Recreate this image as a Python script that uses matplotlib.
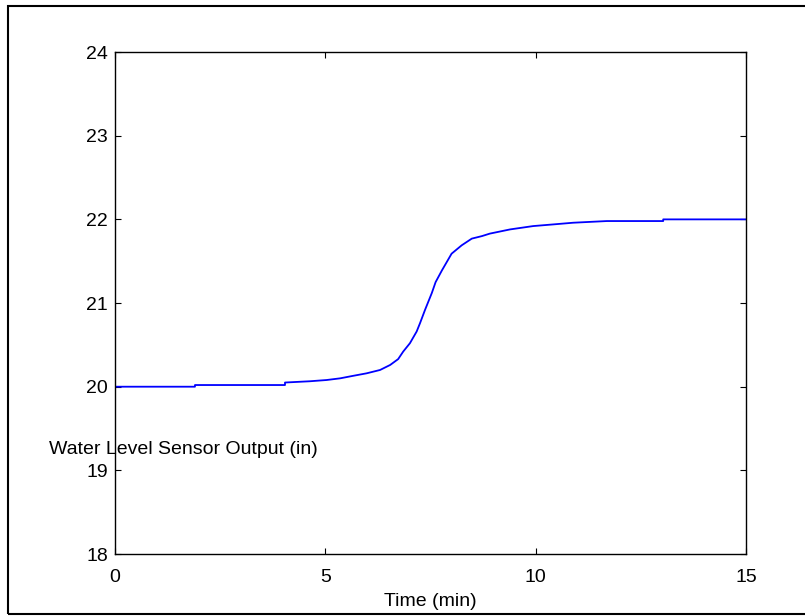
import numpy as np
import matplotlib.pyplot as plt
from matplotlib.patches import Rectangle

plt.rcParams['font.family'] = ['Liberation Sans', 'DejaVu Sans']

# sensor trace, time in minutes and level in inches
time_min = [0, 1.9, 1.9, 4.04, 4.04, 4.63, 5.03, 5.35, 5.66, 5.98, 6.30, 6.54,
            6.73, 6.85, 7.01, 7.17, 7.25, 7.37, 7.53, 7.62, 7.77, 8.00, 8.24,
            8.48, 8.72, 8.91, 9.39, 9.94, 10.42, 10.89, 11.69, 13.03, 13.03, 15]
level_in = [20.00, 20.00, 20.02, 20.02, 20.05, 20.065, 20.08, 20.10, 20.13,
            20.16, 20.20, 20.26, 20.33, 20.42, 20.52, 20.66, 20.76, 20.92,
            21.12, 21.25, 21.39, 21.59, 21.69, 21.77, 21.80, 21.83, 21.88,
            21.92, 21.94, 21.96, 21.98, 21.98, 22.00, 22.00]

x_ticks = [0, 5, 10, 15]
y_ticks = [18, 19, 20, 21, 22, 23, 24]

fig = plt.figure(figsize=(8.05, 6.16), dpi=100)
ax = fig.add_axes([0.1429, 0.1006, 0.7839, 0.8149])

ax.plot(time_min, level_in, color='#0000ff', linewidth=1.3)

ax.set_xlim(0, 15)
ax.set_ylim(18, 24)
ax.set_xticks(x_ticks)
ax.set_yticks(y_ticks)
ax.tick_params(direction='in', length=4, width=0.8, top=True, right=True,
               labelsize=14)
ax.tick_params(axis='x', pad=11)
ax.tick_params(axis='y', pad=5)
for s in ax.spines.values():
    s.set_linewidth(1.0)

ax.set_xlabel('Time (min)', fontsize=14, labelpad=5)
ax.set_ylabel('Water Level Sensor Output (in)', fontsize=14, rotation=0,
              ha='center', va='center')
ax.yaxis.set_label_coords(0.108, 0.209)

# frame around the whole figure
fig.patches.append(Rectangle((8 / 805, 2 / 616), 1.0, 608 / 616,
                             transform=fig.transFigure, fill=False,
                             edgecolor='black', linewidth=1.5))

fig.savefig('out.png', dpi=100)
